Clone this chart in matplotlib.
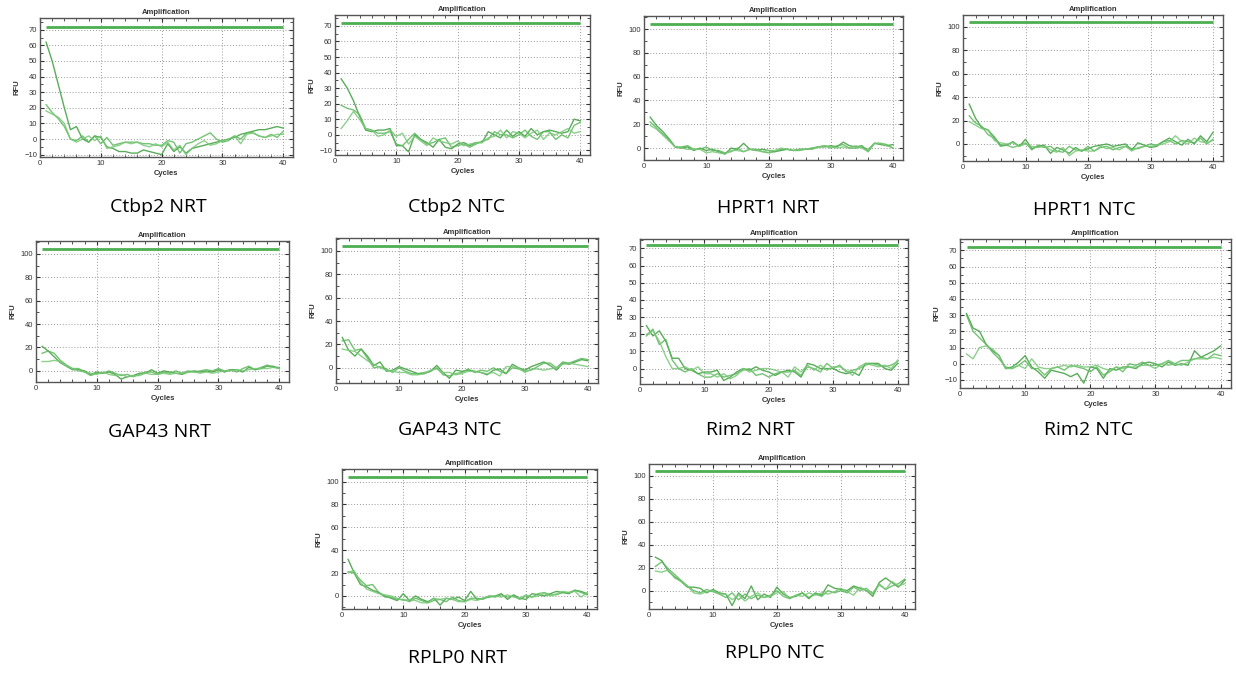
import numpy as np
import matplotlib
matplotlib.use("Agg")
import matplotlib.pyplot as plt
from matplotlib.ticker import MultipleLocator

# RFU traces per well (cycles 1..40), three replicate curves per assay
ctbp2_nrt = [
    [62, 50, 35, 20, 6, 8, 0, -2, 2, 1, -5, -6, -8, -8, -9, -9, -7, -8, -9, -10,
     -3, -8, -5, -9, -6, -5, -4, -3, -2, -1, 0, 1, 3, 4, 5, 6, 6, 7, 8, 7],
    [22, 17, 13, 8, 0, -1, 2, -2, 2, -3, 1, -4, -3, -2, -2, -2, -3, -3, -4, -4,
     -1, -2, -9, -3, -2, 0, 2, 4, 0, -2, -1, 2, 0, 4, 4, 2, 1, 3, 1, 5],
    [18, 16, 14, 10, 0, -2, 0, 2, -1, 2, -6, -5, -4, -2, -3, -2, -4, -5, -3, -5,
     -2, -7, -4, -10, -6, -3, -1, -4, -3, -1, 0, 2, -3, 3, 4, 2, 1, 2, 3, 3],
]
ctbp2_ntc = [
    [36, 30, 22, 12, 3, 2, 3, 3, 4, -7, -7, -11, 0, -3, -5, -8, -3, -8, -9, -6,
     -5, -7, -5, -5, 2, 0, -2, 3, -1, 2, -1, 4, 0, 2, 3, 2, 1, 2, 10, 9],
    [19, 17, 16, 13, 4, 3, 1, 1, 2, -6, -7, -3, 1, -3, -6, -5, -3, -2, -8, -7,
     -6, -8, -6, -4, -3, 2, 0, 0, -2, 0, 3, -1, -3, 2, 2, -3, 0, -2, 6, 8],
    [4, 9, 15, 10, 4, 3, -1, 0, 3, -1, 1, -6, -1, -4, -7, -2, -4, -5, -6, -4,
     -7, -6, -5, -5, -2, -1, 3, -2, 2, 1, -2, 1, 3, -3, 1, 0, 2, 4, 1, 2],
]
hprt1_nrt = [
    [26, 19, 14, 8, 1, 0, 1, -2, 0, -2, -1, -3, -5, 0, -1, 4, -1, -2, -1, -2,
     -3, -2, -1, -2, -1, -1, 0, 1, 1, 2, 1, 5, 2, 1, 2, -3, 4, 3, 2, 3],
    [22, 17, 12, 7, 1, 1, 2, -1, -1, 1, -2, -2, -4, -3, 0, -3, -1, -1, -3, -4,
     -3, -1, -1, -2, -2, -1, -1, 1, 2, 0, 2, 3, 0, 0, 1, -1, 4, 4, 3, 0],
    [19, 16, 11, 6, 1, 0, -1, -1, -1, -4, -3, -4, -5, -2, -2, -3, -1, -2, -3, -2,
     -2, 0, -1, -2, -1, -1, 0, 1, 2, 1, 0, 1, 0, 2, 0, -3, 4, 4, 2, 0],
]
hprt1_ntc = [
    [34, 22, 14, 12, 6, -1, -1, 2, -2, 4, -4, -2, -1, -8, -3, -5, -8, -3, -6, -4,
     -2, -1, 0, -2, -1, 0, -5, 1, -1, -3, -2, 2, 5, 2, -1, 4, 0, 7, 2, 10],
    [24, 18, 15, 8, 5, -2, -1, -3, -1, 1, -5, -1, -3, -2, -6, -7, -2, -5, -6, -2,
     -6, -3, -2, -5, -3, -2, -4, -4, -2, 0, -1, 2, 3, 0, 3, 2, 1, 5, 0, 4],
    [19, 16, 13, 12, 3, 1, 0, 1, -2, 0, -2, -3, -2, -5, -7, -3, -10, -6, -5, -6,
     -6, -2, -4, -3, -5, -2, -6, -3, -2, -2, -1, 0, 2, 7, 2, 0, 5, 2, 1, 3],
]
gap43_nrt = [
    [21, 17, 12, 7, 4, 1, 1, 0, -3, -1, -2, -1, -3, -7, -5, -4, -2, -2, 1, -2,
     0, -1, -2, -3, -1, 0, -1, 0, -1, 1, -1, 1, 1, -1, 3, 1, 2, 4, 4, 2],
    [15, 17, 15, 9, 5, 2, 2, -1, -4, -2, -2, 0, -2, -4, -3, -5, -3, -1, -1, -3,
     -1, -2, 0, -2, 0, -1, 0, 1, 0, 2, 0, 1, -1, 2, 4, 1, 3, 5, 3, 3],
    [8, 8, 9, 8, 4, 2, 0, -1, -2, -3, -1, -3, -4, -3, -5, -4, -4, -2, -3, -3,
     -2, -3, -2, -2, -1, -1, -2, -1, -2, -1, 0, 0, 1, 0, 1, 2, 2, 2, 3, 2],
]
gap43_ntc = [
    [26, 15, 10, 16, 10, 2, 5, -3, -2, 1, -1, -3, -5, -5, -3, 2, -4, -9, -2, -3,
     -2, -3, -4, -6, -2, -1, -5, 3, 0, -2, 1, 3, 5, 2, -2, 4, 3, 5, 7, 6],
    [23, 24, 15, 16, 8, 0, 1, -1, -4, 0, -3, -5, -5, -4, -3, 0, -6, -7, -5, -4,
     -1, -4, -2, -3, 0, -3, -5, 0, -1, -3, -2, 1, 4, 4, 0, 5, 4, 6, 8, 7],
    [16, 15, 14, 10, 6, 3, 0, -2, -3, -4, -4, -6, -6, -5, -2, -1, -4, -4, -6, -5,
     -3, -3, -4, -5, -4, -7, 1, 1, 0, -4, -1, -1, -2, -1, 0, 3, 4, 3, 2, 1],
]
rim2_nrt = [
    [25, 19, 22, 16, 6, 6, 0, -1, -3, -2, -2, -1, -7, -5, -2, 0, -1, 1, -1, -2,
     -4, -2, -1, -2, -5, 3, 2, 0, 0, 0, -2, -3, -2, -4, 3, 3, 3, 0, -1, 3],
    [19, 23, 14, 17, 5, 0, -2, 0, -3, -5, -5, -3, -5, -4, -3, -1, 0, -4, -3, -5,
     -3, -2, -2, -1, -4, 1, 0, -2, 3, 0, 2, -2, -1, 0, 2, 3, 2, 1, 2, 4],
    [20, 22, 16, 7, 0, 0, 1, -1, 1, -3, -3, -5, -3, -6, -4, 0, -2, -1, 0, 0,
     -1, -2, -5, 1, -2, 2, -1, 2, -1, 1, 1, -1, -4, 1, 3, 2, 1, 2, 0, 5],
]
rim2_ntc = [
    [31, 22, 20, 12, 8, 5, -3, -2, 1, 5, -2, -5, -9, -4, -5, -6, -8, -6, -12, -2,
     -3, -9, -3, -4, -2, -2, -3, 0, 1, 0, -2, 1, -1, 0, -1, 8, 4, 6, 8, 11],
    [30, 20, 16, 12, 7, 3, -2, -3, -1, 2, -3, -3, -7, -3, -2, -4, -1, -2, -3, -5,
     -2, -7, -5, -2, -5, 0, -1, 1, -1, -1, 0, 2, 0, 2, 2, 3, 4, 3, 6, 5],
    [6, 3, 10, 11, 9, 5, -3, -3, -1, -3, 3, -2, -3, -3, -2, -1, -2, -1, -2, -2,
     -1, -3, -4, -2, -3, -2, -2, -1, -1, -3, 0, -1, 0, -1, 1, 3, 3, 3, 4, 3],
]
rplp0_nrt = [
    [32, 20, 10, 8, 5, 3, 0, -2, -4, 2, -4, 0, -3, -5, -2, -8, -2, -3, -1, -4,
     4, -3, -2, -1, 0, 2, -3, 1, -2, -3, 2, 1, 0, 2, 4, 3, 2, 5, 4, 2],
    [21, 20, 14, 9, 10, 3, -1, -1, -3, -3, -5, -2, -4, -6, -4, -3, -5, -1, -4, -5,
     -2, -2, -3, 0, -1, 1, -1, 0, -3, 0, -1, 2, 3, 1, 1, 3, 3, 5, 3, 1],
    [21, 22, 12, 6, 4, 2, 1, 0, -2, -4, -3, -4, -6, -6, -2, -3, -2, -3, -5, -5,
     -3, -4, -2, 0, 0, -1, 1, -1, -2, 1, -1, 0, 2, 0, 2, 4, 3, 4, -1, 3],
]
rplp0_ntc = [
    [29, 26, 17, 12, 8, 3, 3, 2, -2, 1, -2, -3, -13, -2, -7, 4, -8, -3, -6, 3,
     -3, -6, -5, -2, -7, -2, -4, 5, 2, 1, 0, 4, 2, 0, -5, 7, 11, 7, 3, 9],
    [21, 25, 19, 14, 9, 4, 0, -2, 1, -1, -3, -6, -2, -8, -3, -7, -4, -6, -4, 0,
     -5, -7, -4, -2, -6, -3, -5, 0, -2, 0, -2, 3, 0, 2, -3, 5, 1, 4, 6, 10],
    [17, 16, 18, 11, 8, 4, -2, -3, -1, 0, -3, -3, -8, -4, -9, -5, -2, -6, -5, -2,
     -1, -7, -4, -5, -2, -4, -2, -3, -1, 2, -1, -4, 3, 0, -2, 6, 1, 8, 4, 6],
]

captions = ["Ctbp2 NRT", "Ctbp2 NTC", "HPRT1 NRT", "HPRT1 NTC",
            "GAP43 NRT", "GAP43 NTC", "Rim2 NRT", "Rim2 NTC",
            "RPLP0 NRT", "RPLP0 NTC"]
traces = [ctbp2_nrt, ctbp2_ntc, hprt1_nrt, hprt1_ntc,
          gap43_nrt, gap43_ntc, rim2_nrt, rim2_ntc,
          rplp0_nrt, rplp0_ntc]
thresholds = [72, 72, 104, 104, 104, 104, 72, 72, 104, 104]
y_limits = [(-11.5, 77.5), (-13, 77), (-10, 111), (-14.5, 110),
            (-9.5, 111), (-13, 111), (-9, 75.5), (-15, 77),
            (-11.4, 111), (-16, 110)]

# panel frames in pixels: left, top, right, bottom; caption centre x, y
W, H = 1236, 673
frames = [(40, 18, 293, 157), (335, 15, 590, 155), (644, 16, 903, 160), (963, 15, 1223, 161),
          (36, 241, 289, 382), (336, 238, 598, 383), (640, 239, 908, 384), (960, 239, 1231, 388),
          (342, 469, 597, 609), (649, 464, 915, 609)]
caption_pos = [(158, 207), (457, 207), (768, 208), (1084, 210),
               (160, 432), (450, 430), (750, 430), (1089, 430),
               (458, 658), (775, 653)]

line_colors = ["#3d9e3d", "#5cb85c", "#78c878"]
thresh_color = "#4caf50"
small_font = "Liberation Sans"

fig = plt.figure(figsize=(W / 100, H / 100), dpi=100)
fig.patch.set_facecolor("white")

for i, curves in enumerate(traces):
    l, t, r, b = frames[i]
    ax = fig.add_axes([l / W, 1 - b / H, (r - l) / W, (b - t) / H])
    for k, vals in enumerate(curves):
        cyc = np.arange(1, len(vals) + 1)
        ax.plot(cyc, vals, color=line_colors[k % 3], lw=1.0, alpha=0.85)
    ax.hlines(thresholds[i], 1, 40, color=thresh_color, lw=2.0)
    ax.set_xlim(0, 41.6)
    ax.set_ylim(*y_limits[i])
    ax.xaxis.set_major_locator(MultipleLocator(10))
    ax.xaxis.set_minor_locator(MultipleLocator(2))
    step = 10 if thresholds[i] < 100 else 20
    ax.yaxis.set_major_locator(MultipleLocator(step))
    ax.yaxis.set_minor_locator(MultipleLocator(step / 2))
    ax.tick_params(which="both", direction="in", top=True, right=True,
                   color="#333333", labelsize=5.5, labelcolor="#333333", pad=2)
    ax.tick_params(which="major", length=3, width=0.8)
    ax.tick_params(which="minor", length=2, width=0.6)
    for lab in ax.get_xticklabels() + ax.get_yticklabels():
        lab.set_family(small_font)
    ax.grid(True, which="major", color="#999999", ls=(0, (1, 2)), lw=0.7)
    for sp in ax.spines.values():
        sp.set_color("#555555")
        sp.set_linewidth(1.0)
    ax.set_title("Amplification", fontsize=5.5, fontweight="bold",
                 color="#333333", pad=3, family=small_font)
    ax.set_xlabel("Cycles", fontsize=5.5, fontweight="bold", color="#333333",
                  labelpad=2, family=small_font)
    ax.set_ylabel("RFU", fontsize=5.5, fontweight="bold", color="#333333",
                  labelpad=3, family=small_font)

    cx, cy = caption_pos[i]
    fig.text(cx / W, 1 - cy / H, captions[i], ha="center", va="center",
             fontsize=14, family="Open Sans", color="black")

fig.savefig("out.png", dpi=100)
